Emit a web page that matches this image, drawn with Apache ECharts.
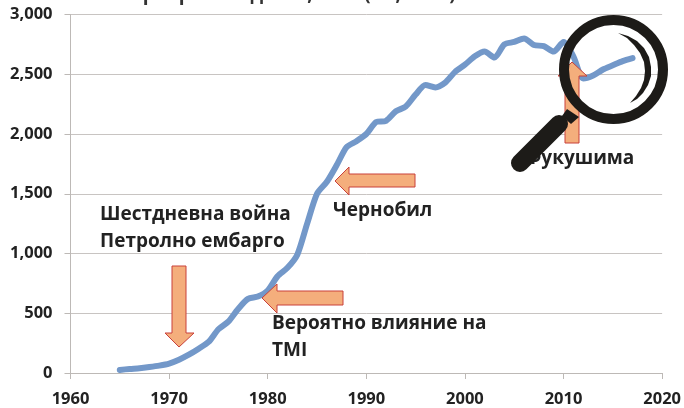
<!DOCTYPE html>
<html><head><meta charset="utf-8">
<style>html,body{margin:0;padding:0;background:#fff}#c{width:684px;height:408px}</style>
<script src="https://cdn.jsdelivr.net/npm/echarts@6/dist/echarts.min.js"></script></head>
<body><div id="c"></div>
<script>
const years=[1965,1966,1967,1968,1969,1970,1971,1972,1973,1974,1975,1976,1977,1978,1979,1980,1981,1982,1983,1984,1985,1986,1987,1988,1989,1990,1991,1992,1993,1994,1995,1996,1997,1998,1999,2000,2001,2002,2003,2004,2005,2006,2007,2008,2009,2010,2011,2012,2013,2014,2015,2016,2017];
const generation=[26,34,40,50,62,79,111,153,203,260,366,430,536,620,640,690,810,880,990,1250,1500,1600,1740,1890,1940,2000,2100,2110,2190,2230,2330,2410,2390,2430,2520,2580,2650,2690,2640,2750,2770,2800,2745,2735,2690,2770,2650,2465,2490,2540,2575,2610,2635];
const titleText='Електропроизводство, TWh (BP, 2018)';
const notes=[
 {t:'Шестдневна война',x:100,y:215},
 {t:'Петролно ембарго',x:100,y:242},
 {t:'Чернобил',x:333,y:211},
 {t:'Вероятно влияние на',x:272,y:324},
 {t:'TMI',x:272,y:351},
 {t:'Фукушима',x:525,y:159}
];
const FF='"Open Sans","Noto Sans",sans-serif';
const arrowStyle={fill:'#F4AE7C',stroke:'#C9403A',lineWidth:1};
function arrow(pts){return {type:'polygon',z:10,shape:{points:pts},style:arrowStyle};}
const crescent=[[618,33],[628,36],[637,41],[644,48],[649,57],[651,67],[651,76],[648,85],[643,93],[637,99],[630,103],[636,96],[641,88],[644,80],[645,71],[644,62],[640,53],[634,45],[627,38]];
const chart=echarts.init(document.getElementById('c'));
chart.setOption({
 animation:false,
 backgroundColor:'#fff',
 grid:{left:70.5,right:21,top:14.5,bottom:34,containLabel:false},
 xAxis:{type:'value',min:1960,max:2020,interval:10,
  axisLine:{show:true,onZero:false,lineStyle:{color:'#BDB9B6',width:1}},
  axisTick:{show:true,length:6,lineStyle:{color:'#BDB9B6'}},
  splitLine:{show:false},
  axisLabel:{color:'#222',fontFamily:FF,fontWeight:700,fontSize:16.5,margin:18,formatter:v=>String(v)}},
 yAxis:{type:'value',min:0,max:3000,interval:500,
  axisLine:{show:true,lineStyle:{color:'#BDB9B6',width:1}},
  axisTick:{show:true,length:6,lineStyle:{color:'#BDB9B6'}},
  splitLine:{show:true,lineStyle:{color:'#C8C4C2',width:1}},
  axisLabel:{color:'#222',fontFamily:FF,fontWeight:700,fontSize:16.5,margin:18,
   formatter:v=>v>=1000?Math.floor(v/1000)+','+String(v%1000).padStart(3,'0'):String(v)}},
 series:[{type:'line',data:years.map((y,i)=>[y,generation[i]]),smooth:0.25,showSymbol:false,symbol:'none',
  lineStyle:{color:'#7398C9',width:6,cap:'round',join:'round'},z:5}],
 graphic:[
  {type:'text',z:9,style:{text:titleText,x:271,y:-5.5,align:'center',verticalAlign:'middle',font:'700 19px '+FF,fill:'#333'}},
  ...notes.map(n=>({type:'text',z:9,style:{text:n.t,x:n.x,y:n.y,verticalAlign:'middle',font:'700 19px '+FF,fill:'#222'}})),
  arrow([[172,266],[186,266],[186,333],[194,333],[179,347],[165,333],[172,333]]),
  arrow([[343,291],[343,305],[277,305],[277,313],[262,298],[277,284],[277,291]]),
  arrow([[415,174],[415,187],[349,187],[349,195],[335,181],[349,167],[349,174]]),
  arrow([[565,143],[579,143],[579,76],[587,76],[572,62],[558,76],[565,76]]),
  {type:'circle',z:20,shape:{cx:613.5,cy:69.5,r:49.5},style:{fill:'none',stroke:'#1D1B18',lineWidth:10}},
  {type:'polyline',z:21,shape:{points:[[520,163],[559,124]]},style:{stroke:'#1D1B18',lineWidth:18,lineCap:'round',fill:'none'}},
  {type:'polygon',z:20,shape:{points:[[567,109],[579,117],[571,124],[562,116]]},style:{fill:'#1D1B18'}},
  {type:'polygon',z:21,shape:{points:crescent},style:{fill:'#1D1B18'}}
 ]
});
</script></body></html>
